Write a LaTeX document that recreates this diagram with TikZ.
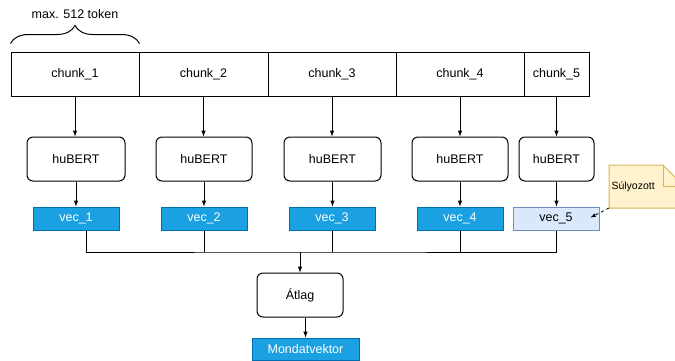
\documentclass[tikz,border=0pt]{standalone}
\usepackage{fontspec}
\setmainfont{Liberation Sans}
\usetikzlibrary{decorations.pathreplacing}

\definecolor{vecblue}{HTML}{1BA1E2}
\definecolor{vecedge}{HTML}{006EAF}
\definecolor{lightfill}{HTML}{DAE8FC}
\definecolor{lightedge}{HTML}{6C8EBF}
\definecolor{notefill}{HTML}{FFF2CC}
\definecolor{noteedge}{HTML}{D6B656}

\tikzset{
	chunk/.style = {draw, minimum height = 44pt, inner sep = 0pt},
	model/.style = {draw, rounded corners = 6pt, minimum height = 44pt, inner sep = 0pt},
	vec/.style = {draw = vecedge, fill = vecblue, text = white, minimum width = 86pt, minimum height = 23pt, inner sep = 0pt},
	weighted/.style = {vec, draw = lightedge, fill = lightfill, text = black}
}

\begin{document}
\begin{tikzpicture}[> = latex, x = 1pt, y = -1pt, line width = 1pt, font = \fontsize{12.5}{14}\selectfont]

	\useasboundingbox (0, 0) rectangle (675, 360);
	\clip (0, 0) rectangle (675, 360);

	% chunks of the input text
	\foreach \i/\x/\w in {1/75/128, 2/203.5/129, 3/332/128, 4/460/128, 5/556.5/65}
		\node [chunk, minimum width = \w pt] (c\i) at (\x, 74) {chunk\_\i};

	\draw [decorate, decoration = {brace, amplitude = 18pt}] ([yshift = 8pt] c1.north west) -- ([yshift = 8pt] c1.north east);
	\node (limit) at (75, 14) {max. 512 token};

	% encoders
	\foreach \i/\x/\w in {1/76/98, 2/204/96, 3/332.5/97, 4/460/96, 5/556.5/75}
		\node [model, minimum width = \w pt] (h\i) at (\x, 159) {huBERT};

	% vectors
	\foreach \i/\x in {1/76, 2/204, 3/332, 4/460}
		\node [vec] (v\i) at (\x, 218.5) {vec\_\i};
	\node [weighted] (v5) at (556, 218.5) {vec\_5};

	\foreach \i in {1, ..., 5}
	{
		\draw [->] (c\i.south) -- (c\i.south |- h\i.north);
		\draw [->] (h\i.south) -- (h\i.south |- v\i.north);
	}

	% averaging
	\node [model, minimum width = 86pt] (avg) at (300, 295) {Átlag};
	\node [vec, minimum width = 107pt, minimum height = 22pt] (sent) at (305.5, 349) {Mondatvektor};

	\coordinate (bus) at (300, 252);
	\draw ([xshift = 10pt] v1.south) |- (bus) -| (v5.south);
	\foreach \i in {2, 3, 4}
		\draw (v\i.south) -- (v\i.south |- bus);
	\draw [->] (bus) -- (avg.north);
	\draw [->] (avg.south -| sent.north) -- (sent.north);

	% note
	\draw [draw = noteedge, fill = notefill] (609, 165) -- (663, 165) -- (684, 186) -- (684, 208) -- (609, 208) -- cycle;
	\draw [draw = noteedge] (663, 165) -- (663, 186) -- (684, 186);
	\node [anchor = west, inner sep = 0pt, font = \fontsize{10.5}{12}\selectfont] (note) at (611, 187) {Súlyozott};
	\coordinate (notetip) at (609, 208);
	\draw [->, dashed, line width = 0.8pt] (notetip) -- ([xshift = -9pt, yshift = 1pt] v5.east);

\end{tikzpicture}
\end{document}
